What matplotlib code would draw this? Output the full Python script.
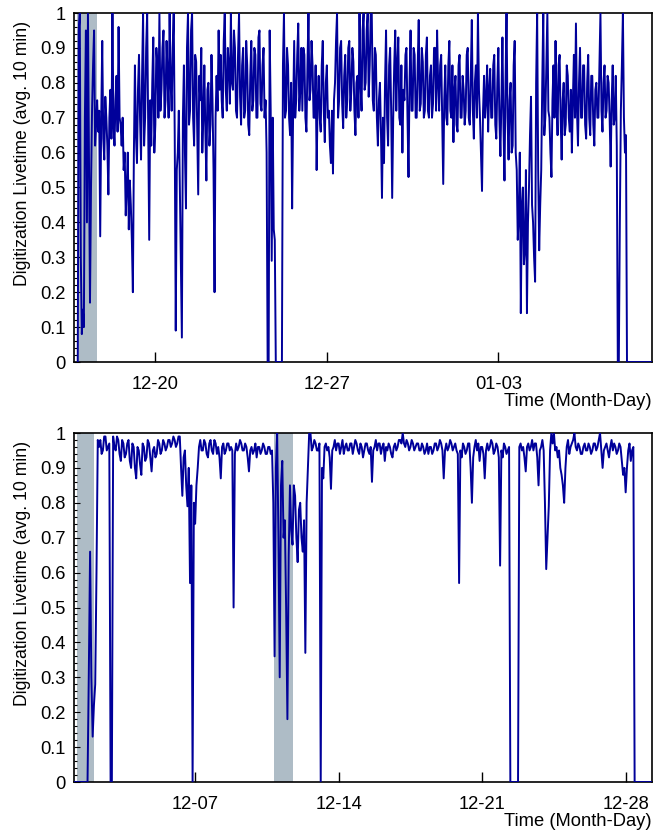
import matplotlib
matplotlib.use("Agg")
import matplotlib.pyplot as plt
import matplotlib.dates as mdates
from matplotlib.ticker import MultipleLocator, NullLocator, FuncFormatter
from datetime import datetime, timedelta

plt.rcParams['font.family'] = ['Liberation Sans', 'DejaVu Sans']

# ---- top run: livetime, one value per hour from 12-16 20:00 ----
top_start = datetime(2012, 12, 16, 20, 0)
top_step_h = 1
top_live = [
    0.0, 0.95, 1.0, 0.3, 0.08, 0.15, 0.1, 0.7, 0.95, 0.4, 1.0, 0.6, 0.17, 0.5, 0.72, 0.85, 0.95, 0.62, 0.68, 0.75,
    0.66, 0.72, 0.36, 0.7, 0.92, 0.64, 0.58, 0.76, 0.7, 0.62, 0.48, 0.7, 0.78, 0.64, 1.0, 0.68, 0.62, 0.75, 0.82, 0.66,
    0.96, 0.7, 0.68, 0.62, 0.7, 0.55, 0.6, 0.42, 0.5, 0.6, 0.38, 0.52, 0.45, 0.35, 0.2, 0.6, 0.85, 0.65, 0.57, 0.78,
    0.88, 0.7, 0.58, 0.82, 1.0, 0.62, 0.7, 0.9, 1.0, 0.66, 0.35, 0.75, 0.62, 0.8, 0.93, 0.6, 0.68, 0.9, 0.85, 0.7,
    1.0, 0.72, 0.78, 0.9, 0.95, 0.7, 0.75, 0.92, 0.82, 0.7, 1.0, 0.8, 0.72, 0.9, 1.0, 0.65, 0.09, 0.55, 0.6, 0.72,
    0.5, 0.3, 0.07, 0.7, 0.85, 0.6, 0.44, 0.9, 1.0, 0.68, 0.72, 0.95, 1.0, 0.7, 0.62, 0.88, 0.86, 0.66, 0.48, 0.82,
    0.75, 0.9, 0.6, 0.7, 0.85, 0.66, 0.52, 0.78, 0.8, 0.62, 0.68, 0.88, 0.75, 0.55, 0.2, 0.7, 0.82, 0.72, 0.95, 0.78,
    0.88, 0.75, 0.7, 0.92, 1.0, 0.78, 0.72, 0.9, 0.85, 0.74, 1.0, 0.8, 0.78, 0.95, 0.9, 0.72, 0.7, 0.88, 1.0, 0.76,
    0.68, 0.85, 0.9, 0.7, 0.72, 0.92, 0.85, 0.68, 0.65, 0.82, 0.92, 0.72, 0.75, 0.9, 0.88, 0.7, 0.7, 0.93, 0.95, 0.74,
    0.72, 0.85, 0.9, 0.7, 0.75, 0.6, 0.0, 0.0, 0.95, 0.72, 0.29, 0.7, 0.38, 0.35, 0.0, 0.0, 0.0, 0.0, 0.0, 0.0,
    0.0, 0.85, 1.0, 0.7, 0.72, 0.9, 0.85, 0.7, 0.65, 0.8, 0.44, 0.72, 0.92, 0.7, 0.75, 0.88, 0.97, 0.72, 0.78, 0.9,
    0.72, 0.9, 0.88, 0.7, 0.66, 0.85, 1.0, 0.75, 0.78, 0.92, 0.85, 0.7, 0.7, 0.85, 0.55, 0.75, 0.82, 0.7, 0.66, 0.85,
    0.92, 0.72, 0.63, 0.8, 0.85, 0.7, 0.72, 0.62, 0.57, 0.72, 0.54, 0.75, 0.8, 0.92, 1.0, 0.7, 0.75, 0.9, 0.92, 0.74,
    0.67, 0.82, 0.88, 0.7, 0.75, 0.9, 0.92, 0.72, 0.78, 0.9, 0.86, 0.72, 0.65, 0.8, 0.82, 0.7, 1.0, 0.8, 0.72, 0.95,
    1.0, 0.78, 0.8, 0.95, 1.0, 0.76, 0.85, 1.0, 1.0, 0.75, 0.72, 0.9, 0.88, 0.7, 0.62, 0.75, 0.8, 0.66, 0.47, 0.7,
    0.57, 0.8, 0.95, 0.7, 0.62, 0.85, 0.9, 0.72, 0.47, 0.7, 0.85, 0.95, 0.72, 0.85, 0.93, 0.7, 0.68, 0.85, 0.6, 0.78,
    0.75, 0.88, 0.9, 0.7, 0.53, 0.8, 0.95, 0.72, 0.72, 0.9, 0.88, 0.7, 0.7, 0.85, 0.98, 0.72, 0.74, 0.9, 0.86, 0.7,
    0.72, 0.88, 0.93, 0.72, 0.7, 0.82, 0.85, 0.7, 0.74, 0.9, 0.9, 0.72, 0.95, 0.8, 0.72, 0.85, 0.88, 0.7, 0.51, 0.75,
    0.85, 0.7, 0.68, 0.85, 0.92, 0.72, 0.7, 0.85, 0.63, 0.78, 0.82, 0.68, 0.66, 0.85, 0.88, 0.7, 0.7, 0.82, 0.78, 0.68,
    0.72, 0.88, 0.9, 0.7, 0.68, 0.82, 0.98, 0.72, 0.64, 0.8, 0.85, 0.7, 1.0, 0.78, 0.7, 0.6, 0.49, 0.72, 0.82, 0.7,
    0.75, 0.85, 0.66, 0.78, 0.84, 0.7, 0.7, 0.85, 0.88, 0.68, 0.64, 0.8, 0.9, 0.7, 0.59, 0.75, 0.93, 0.68, 0.52, 0.8,
    1.0, 0.7, 0.58, 0.75, 0.8, 0.6, 0.62, 0.85, 0.92, 0.6, 0.55, 0.35, 0.42, 0.6, 0.14, 0.45, 0.5, 0.28, 0.32, 0.55,
    0.14, 0.4, 0.5, 0.65, 0.76, 0.45, 0.4, 0.3, 0.23, 0.8, 1.0, 0.55, 0.32, 0.45, 0.55, 0.8, 1.0, 0.65, 0.7, 0.85,
    1.0, 0.72, 0.7, 0.6, 0.53, 0.75, 0.85, 0.7, 0.92, 0.75, 0.65, 0.85, 0.88, 0.7, 0.58, 0.75, 0.8, 0.65, 0.68, 0.85,
    0.82, 0.7, 0.66, 0.78, 0.6, 0.75, 0.88, 0.7, 0.97, 0.72, 0.62, 0.8, 0.9, 0.7, 0.7, 0.85, 0.85, 0.68, 0.64, 0.8,
    0.88, 0.7, 0.65, 0.82, 0.82, 0.68, 0.62, 0.78, 0.8, 0.7, 0.7, 0.85, 1.0, 0.72, 0.66, 0.8, 0.85, 0.7, 0.72, 0.82,
    0.8, 0.7, 0.56, 0.75, 0.85, 0.68, 0.7, 0.82, 0.62, 0.0, 0.0, 0.4, 0.72, 0.85, 1.0, 0.7, 0.6, 0.65, 0.0, 0.0,
    0.0, 0.0, 0.0, 0.0, 0.0, 0.0, 0.0, 0.0, 0.0, 0.0, 0.0, 0.0, 0.0, 0.0, 0.0, 0.0, 0.0, 0.0, 0.0, 0.0,
    0.0, 0.0, 0.0, 0.0,
]
top_masked = [(datetime(2012, 12, 16, 19, 17), datetime(2012, 12, 17, 14, 53))]
top_ticks = [datetime(2012, 12, 20), datetime(2012, 12, 27), datetime(2013, 1, 3)]
top_xlim = (datetime(2012, 12, 16, 16, 20), datetime(2013, 1, 9, 6, 30))

# ---- bottom run: livetime, one value every 1.5 h from 12-01 03:00 ----
bot_start = datetime(2011, 12, 1, 3, 0)
bot_step_h = 1.5
bot_live = [
    0, 0, 0, 0, 0, 0, 0, 0, 0, 0, 0, 0.31, 0.66, 0.3, 0.13, 0.22, 0.28, 0.6, 0.98, 0.96,
    0.98, 0.94, 0.95, 0.99, 0.99, 0.95, 0.96, 0.97, 0.0, 0.0, 0.99, 0.96, 0.95, 0.99, 0.98, 0.94, 0.92, 0.98, 0.97, 0.93,
    0.94, 0.97, 0.98, 0.92, 0.9, 0.97, 0.96, 0.9, 0.87, 0.96, 0.95, 0.91, 0.88, 0.97, 0.96, 0.92, 0.93, 0.98, 0.97, 0.93,
    0.89, 0.95, 0.96, 0.93, 0.94, 0.98, 0.97, 0.94, 0.95, 0.98, 0.97, 0.95, 0.96, 0.98, 0.98, 0.96, 0.97, 0.99, 0.98, 0.96,
    0.97, 0.99, 0.99, 0.9, 0.82, 0.93, 0.95, 0.85, 0.79, 0.9, 0.57, 0.85, 0.0, 0.8, 0.74, 0.85, 0.9, 0.96, 0.98, 0.95,
    0.95, 0.98, 0.97, 0.94, 0.93, 0.97, 0.98, 0.95, 0.94, 0.98, 0.97, 0.94, 0.96, 0.93, 0.87, 0.96, 0.97, 0.94, 0.95, 0.97,
    0.97, 0.95, 0.96, 0.95, 0.5, 0.94, 0.97, 0.95, 0.96, 0.98, 0.97, 0.95, 0.95, 0.97, 0.96, 0.93, 0.89, 0.95, 0.96, 0.94,
    0.95, 0.97, 0.93, 0.96, 0.96, 0.94, 0.95, 0.97, 0.96, 0.94, 0.94, 0.96, 0.96, 0.94, 0.95, 0.8, 0.36, 0.9, 1.0, 0.7,
    0.3, 0.85, 0.92, 0.7, 0.75, 0.5, 0.18, 0.65, 0.85, 0.72, 0.68, 0.85, 0.82, 0.7, 0.63, 0.78, 0.8, 0.7, 0.66, 0.75,
    0.37, 0.8, 0.9, 1.0, 1.0, 0.95, 0.96, 0.98, 0.97, 0.95, 0.95, 0.97, 0.0, 0.9, 0.87, 0.96, 0.97, 0.95, 0.96, 0.93,
    0.84, 0.95, 0.96, 0.98, 0.95, 0.97, 0.97, 0.94, 0.96, 0.98, 0.94, 0.96, 0.97, 0.95, 0.95, 0.97, 0.97, 0.94, 0.96, 0.98,
    0.97, 0.95, 0.94, 0.97, 0.96, 0.93, 0.95, 0.97, 0.97, 0.95, 0.94, 0.96, 0.86, 0.95, 0.96, 0.98, 0.95, 0.97, 0.97, 0.94,
    0.96, 0.97, 0.92, 0.96, 0.95, 0.97, 0.96, 0.94, 0.93, 0.96, 0.97, 0.95, 0.96, 0.98, 0.98, 0.97, 1.0, 0.97, 0.96, 0.98,
    0.97, 0.95, 0.96, 0.98, 0.97, 0.95, 0.96, 0.97, 0.97, 0.95, 0.95, 0.97, 0.96, 0.94, 0.95, 0.97, 0.94, 0.96, 0.96, 0.94,
    0.95, 0.97, 0.97, 0.95, 0.96, 0.98, 0.97, 0.95, 0.87, 0.95, 0.97, 0.95, 0.96, 0.98, 0.97, 0.95, 0.96, 0.97, 0.95, 0.94,
    0.57, 0.95, 0.93, 0.97, 0.96, 0.94, 0.95, 0.97, 0.97, 0.9, 0.8, 0.93, 0.96, 0.98, 0.95, 0.97, 0.92, 0.96, 0.96, 0.94,
    0.87, 0.95, 0.97, 0.95, 0.96, 0.98, 0.97, 0.94, 0.95, 0.97, 0.96, 0.93, 0.62, 0.95, 0.93, 0.97, 0.96, 0.94, 0.95, 0.96,
    0.0, 0.0, 0.0, 0.0, 0.0, 0.0, 0.0, 0.96, 0.97, 0.95, 0.96, 0.93, 0.89, 0.96, 0.97, 0.95, 0.96, 0.98, 0.95, 0.97,
    0.97, 0.93, 0.85, 0.95, 0.96, 0.98, 0.95, 0.8, 0.61, 0.7, 0.79, 0.95, 1.0, 0.97, 1.0, 0.95, 0.96, 0.93, 0.95, 0.9,
    0.88, 0.85, 0.8, 0.9, 0.96, 0.98, 0.94, 0.96, 0.97, 0.98, 1.0, 0.96, 0.95, 0.97, 0.96, 0.94, 0.94, 0.96, 0.97, 0.95,
    0.95, 0.97, 0.96, 0.94, 0.95, 0.97, 0.97, 0.95, 0.96, 0.98, 1.0, 0.95, 0.9, 0.95, 0.96, 0.97, 0.95, 0.93, 0.96, 0.98,
    0.95, 0.97, 0.96, 0.94, 0.95, 0.97, 0.96, 0.92, 0.88, 0.9, 0.83, 0.9, 0.95, 0.97, 0.92, 0.95, 0.96, 0.0, 0.0, 0.0,
    0, 0, 0, 0, 0, 0, 0, 0, 0, 0, 0,
]
bot_masked = [(datetime(2011, 12, 1, 5, 22), datetime(2011, 12, 2, 1, 40)),
              (datetime(2011, 12, 10, 20, 34), datetime(2011, 12, 11, 18, 0))]
bot_ticks = [datetime(2011, 12, 7), datetime(2011, 12, 14),
             datetime(2011, 12, 21), datetime(2011, 12, 28)]
bot_xlim = (datetime(2011, 12, 1, 2, 10), datetime(2011, 12, 29, 6, 50))

LINE = '#00009a'
MASK = '#aebcc6'
FS = 13.2

W, H = 653, 830
fig = plt.figure(figsize=(W / 100, H / 100), dpi=100)


def panel(top_px, start, step_h, live, masked, ticks, xlim):
    ax = fig.add_axes([74 / W, 1 - (top_px + 349) / H, 578 / W, 349 / H])
    times = [start + timedelta(hours=step_h * i) for i in range(len(live))]
    for a, b in masked:
        ax.axvspan(a, b, color=MASK, lw=0, zorder=1)
    ax.plot(times, live, color=LINE, lw=1.4, zorder=3)
    ax.set_xlim(*xlim)
    ax.set_ylim(0, 1)
    ax.set_xticks(ticks)
    ax.xaxis.set_major_formatter(mdates.DateFormatter('%m-%d'))
    ax.xaxis.set_minor_locator(NullLocator())
    ax.yaxis.set_major_locator(MultipleLocator(0.1))
    ax.yaxis.set_minor_locator(MultipleLocator(0.02))
    ax.yaxis.set_major_formatter(FuncFormatter(lambda v, p: f'{v:.1f}'.rstrip('0').rstrip('.') if v else '0'))
    ax.tick_params(axis='y', which='major', direction='in', length=4, width=0.8, labelsize=FS, pad=6)
    ax.tick_params(axis='y', which='minor', direction='in', length=2, width=0.8)
    ax.tick_params(axis='x', which='major', direction='in', length=7, width=1.0, labelsize=FS, pad=10)
    for s in ax.spines.values():
        s.set_linewidth(1.2)
    ax.set_ylabel('Digitization Livetime (avg. 10 min)', fontsize=12.7, loc='top')
    ax.yaxis.set_label_coords(-0.075, 0.977)
    ax.set_xlabel('Time (Month-Day)', fontsize=FS, loc='right', labelpad=0)
    return ax


panel(13, top_start, top_step_h, top_live, top_masked, top_ticks, top_xlim)
panel(433, bot_start, bot_step_h, bot_live, bot_masked, bot_ticks, bot_xlim)

fig.savefig('out.png', dpi=100)
